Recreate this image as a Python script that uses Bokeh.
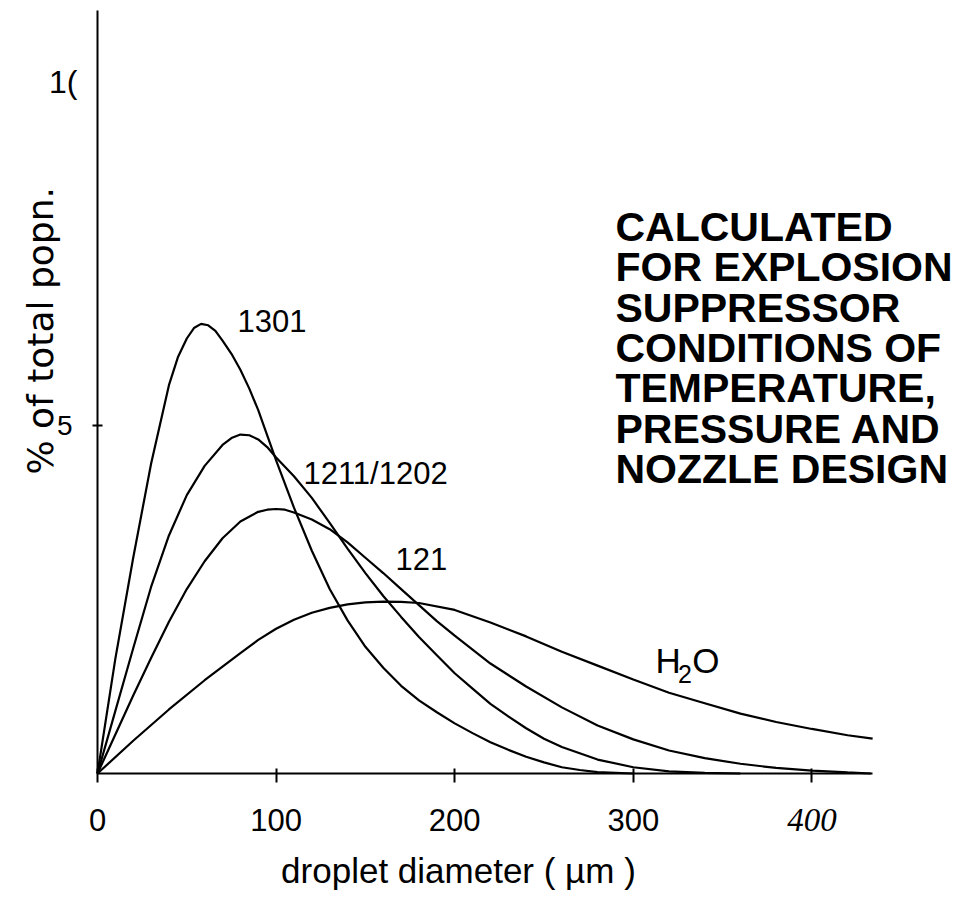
import math
from bokeh.plotting import figure
from bokeh.models import Range1d, FixedTicker, Label, LinearAxis
from bokeh.embed import file_html
from bokeh.resources import INLINE

# ---- data ----
d_1301 = [0, 10, 20, 30, 40, 45, 50, 54, 58, 62, 66, 70, 75, 80, 85, 90, 100, 110, 120, 130, 140,
          150, 160, 170, 180, 190, 200, 210, 220, 230, 240, 250, 260, 270, 280, 300]
p_1301 = [0, 1.65, 3.10, 4.45, 5.58, 5.98, 6.25, 6.40, 6.46, 6.44, 6.36, 6.22, 6.03, 5.80, 5.53,
          5.22, 4.50, 3.82, 3.20, 2.65, 2.20, 1.82, 1.52, 1.26, 1.05, 0.88, 0.72, 0.58, 0.45,
          0.34, 0.24, 0.16, 0.09, 0.05, 0.02, 0.0]

d_1211 = [0, 10, 20, 30, 40, 50, 60, 70, 75, 80, 85, 90, 95, 100, 110, 120, 130, 140, 150, 160,
          170, 180, 190, 200, 210, 220, 230, 240, 250, 260, 280, 300, 320, 340, 360]
p_1211 = [0, 0.90, 1.80, 2.68, 3.42, 4.00, 4.42, 4.72, 4.82, 4.87, 4.86, 4.80, 4.69, 4.54, 4.27,
          3.96, 3.60, 3.23, 2.88, 2.55, 2.25, 1.96, 1.70, 1.44, 1.22, 1.00, 0.82, 0.65, 0.50,
          0.38, 0.20, 0.09, 0.03, 0.01, 0.0]

d_121 = [0, 10, 20, 30, 40, 50, 60, 70, 80, 90, 95, 100, 105, 110, 120, 130, 140, 150, 160, 170,
         180, 190, 200, 210, 220, 240, 260, 280, 300, 320, 340, 360, 380, 400, 420, 433]
p_121 = [0, 0.56, 1.12, 1.66, 2.18, 2.65, 3.05, 3.38, 3.62, 3.76, 3.79, 3.80, 3.79, 3.75, 3.65,
         3.51, 3.32, 3.10, 2.88, 2.65, 2.42, 2.19, 1.98, 1.78, 1.58, 1.25, 0.95, 0.69, 0.49,
         0.33, 0.22, 0.14, 0.08, 0.04, 0.015, 0.0]

d_h2o = [0, 20, 40, 60, 80, 90, 100, 110, 120, 130, 140, 150, 160, 170, 180, 200, 220, 240, 260,
         280, 300, 320, 340, 360, 380, 400, 420, 434]
p_h2o = [0, 0.47, 0.92, 1.34, 1.73, 1.92, 2.08, 2.21, 2.31, 2.38, 2.43, 2.46, 2.47, 2.465, 2.45,
         2.35, 2.17, 1.97, 1.75, 1.55, 1.35, 1.16, 1.01, 0.86, 0.74, 0.64, 0.55, 0.50]

x_ticks = [0, 100, 200, 300, 400]
x_tick_labels = ["0", "100", "200", "300", "400"]
y_ticks = [5, 10]
y_tick_labels = ["5", "1("]

x_title = "droplet diameter ( \u00b5m )"
y_title = "% of total popn."
note_lines = ["CALCULATED", "FOR EXPLOSION", "SUPPRESSOR", "CONDITIONS OF",
              "TEMPERATURE,", "PRESSURE AND", "NOZZLE DESIGN"]
curve_labels = ["1301", "1211/1202", "121"]

SANS = "Liberation Sans"

# frame covers the whole canvas; axes are drawn at fixed data locations
W, H = 960, 900
X0, Y0 = 97.0, 773.0          # canvas position of the origin
SX, SY = 1.786, 69.6          # pixels per unit
LIFT = 15.0 / SY              # correction for Label's baseline placement
p = figure(width=W, height=H, output_backend="svg", toolbar_location=None,
           x_range=Range1d(-X0 / SX, (W - X0) / SX),
           y_range=Range1d(-(H - Y0) / SY, Y0 / SY),
           x_axis_location=None, y_axis_location=None, min_border=0)
p.outline_line_color = None
p.grid.visible = False
p.background_fill_color = "white"
p.border_fill_color = "white"

for xs, ys in [(d_1301, p_1301), (d_1211, p_1211), (d_121, p_121), (d_h2o, p_h2o)]:
    p.line(xs, ys, line_color="black", line_width=2.2)

# x axis
ov = {t: l for t, l in zip(x_ticks, x_tick_labels)}
ov[400] = ""
xa = LinearAxis(fixed_location=0, bounds=(0, 434), ticker=FixedTicker(ticks=x_ticks),
                major_label_overrides=ov)
xa.axis_line_width = 2
xa.axis_line_color = "black"
xa.major_tick_line_width = 2
xa.major_tick_in = 5
xa.major_tick_out = 9
xa.minor_tick_line_color = None
xa.major_label_text_font = SANS
xa.major_label_text_font_size = "31px"
xa.major_label_text_color = "black"
xa.major_label_standoff = 26
p.add_layout(xa, "below")

# y axis
ya = LinearAxis(fixed_location=0, bounds=(0, (Y0 - 10) / SY),
                ticker=FixedTicker(ticks=[y_ticks[0]]),
                major_label_overrides={y_ticks[0]: y_tick_labels[0]})
ya.axis_line_width = 2
ya.axis_line_color = "black"
ya.major_tick_line_width = 2
ya.major_tick_in = 5
ya.major_tick_out = 5
ya.minor_tick_line_color = None
ya.major_label_text_font = SANS
ya.major_label_text_font_size = "28px"
ya.major_label_text_color = "black"
ya.major_label_standoff = 20
p.add_layout(ya, "left")

# the "1(" tick label (no tick mark drawn there in the reference)
p.add_layout(Label(x=-11.2, y=y_ticks[1] - 0.07, text=y_tick_labels[1], text_font=SANS,
                   text_font_size="32px", text_align="right", text_baseline="middle",
                   text_color="black"))
# italic "400"
p.add_layout(Label(x=x_ticks[4], y=-0.862 + LIFT * 0.9, text=x_tick_labels[4],
                   text_font="Liberation Serif", text_font_style="italic",
                   text_font_size="33px", text_align="center",
                   text_baseline="alphabetic", text_color="black"))

# titles
p.add_layout(Label(x=202.1, y=-1.609 + LIFT, text=x_title, text_font=SANS,
                   text_font_size="35px", text_align="center", text_baseline="alphabetic",
                   text_color="black"))
p.add_layout(Label(x=-32, y=6.36, text=y_title, text_font="DejaVu Sans",
                   text_font_size="36px", text_align="center", text_baseline="middle",
                   angle=math.pi / 2, text_color="black"))

# curve labels
for txt, x, y in zip(curve_labels, [78.4, 115.3, 166.9], [6.29, 4.09, 2.87]):
    p.add_layout(Label(x=x, y=y + LIFT, text=txt, text_font=SANS, text_font_size="31px",
                       text_align="left", text_baseline="alphabetic", text_color="black"))
p.add_layout(Label(x=312.4, y=1.41 + LIFT, text="H", text_font=SANS, text_font_size="35px",
                   text_align="left", text_baseline="alphabetic", text_color="black"))
p.add_layout(Label(x=325.0, y=1.22 + LIFT, text="2", text_font=SANS, text_font_size="25px",
                   text_align="left", text_baseline="alphabetic", text_color="black"))
p.add_layout(Label(x=333.0, y=1.41 + LIFT, text="O", text_font=SANS, text_font_size="35px",
                   text_align="left", text_baseline="alphabetic", text_color="black"))

# note block
for i, line in enumerate(note_lines):
    p.add_layout(Label(x=290.0, y=7.634 - 0.579 * i + LIFT, text=line, text_font=SANS,
                       text_font_style="bold", text_font_size="41px", text_align="left",
                       text_baseline="alphabetic", text_color="black"))

open("out.html", "w").write(file_html(p, INLINE))
